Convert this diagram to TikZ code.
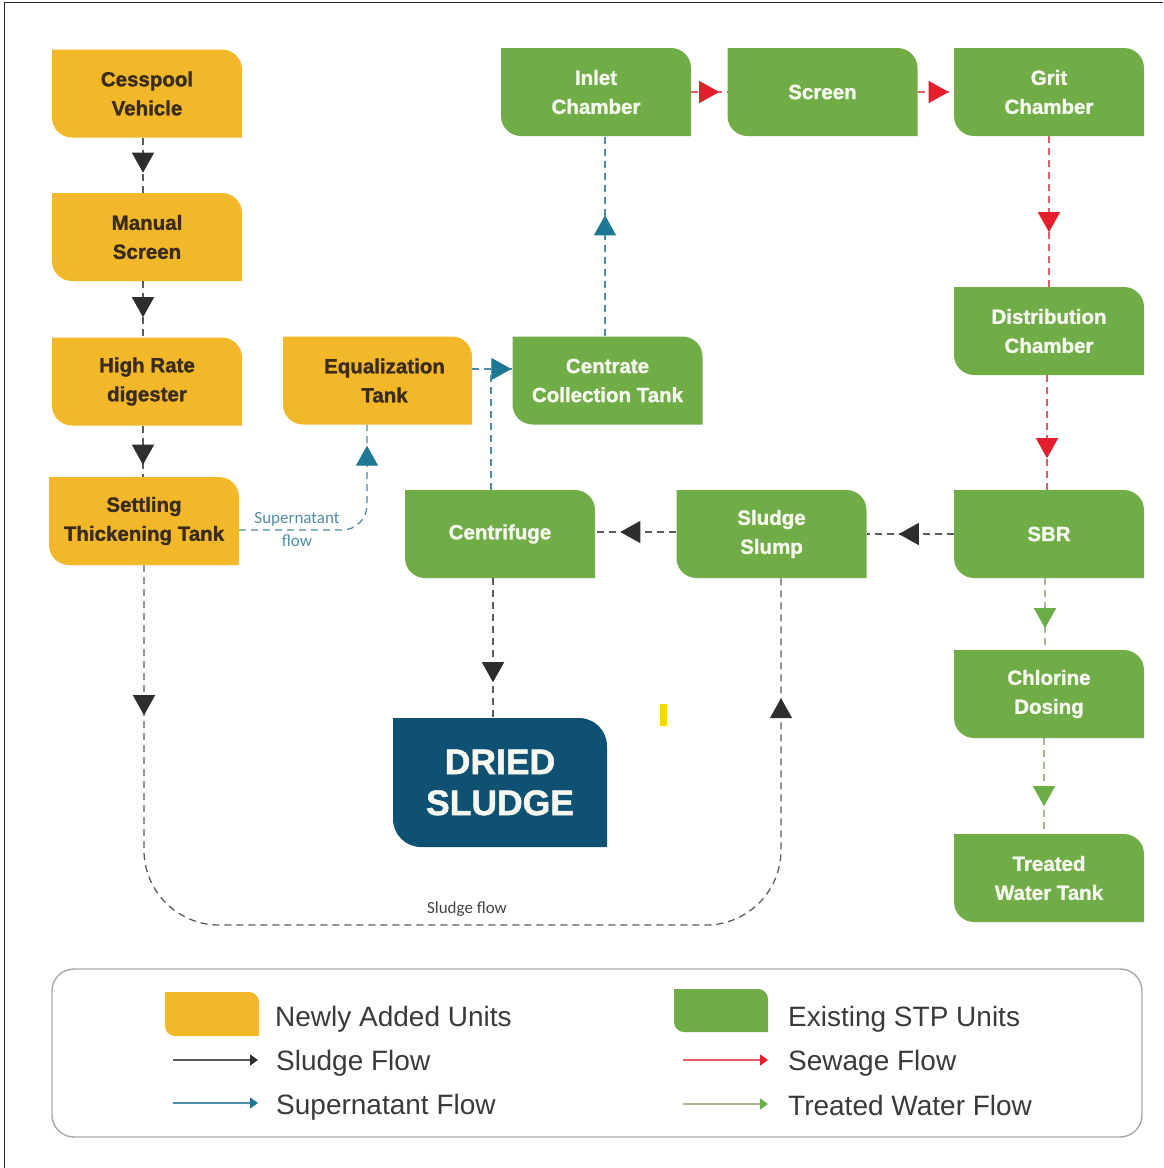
\documentclass[tikz,border=0pt]{standalone}
\usepackage{fontspec}
\setmainfont{Liberation Sans}
\newfontfamily\heavyfont[BoldFeatures={FakeBold=1.4}]{Liberation Sans}
\newfontfamily\calfont{Carlito}
\usetikzlibrary{arrows.meta,decorations.markings,calc}
\definecolor{unitY}{HTML}{F2B82A}
\definecolor{unitG}{HTML}{71AD47}
\definecolor{unitB}{HTML}{0E5173}
\definecolor{textY}{HTML}{3A2C1C}
\definecolor{textG}{HTML}{F6F8F0}
\definecolor{lnBlack}{HTML}{5C5C5C}
\definecolor{tipBlack}{HTML}{2E2E2E}
\definecolor{lnBlue}{HTML}{4A8DA8}
\definecolor{tipBlue}{HTML}{1E7893}
\definecolor{lnRed}{HTML}{E65A66}
\definecolor{tipRed}{HTML}{E31F2D}
\definecolor{lnGreen}{HTML}{A3B893}
\definecolor{tipGreen}{HTML}{6AAE45}
\definecolor{labBlue}{HTML}{4F8CA5}
\definecolor{labGray}{HTML}{444444}
\definecolor{legGray}{HTML}{A8A8A8}
\definecolor{legText}{HTML}{3A3A3A}
\definecolor{markY}{HTML}{F5D800}
\tikzset{
  corner r/.store in=\cornerr, corner r=20pt,
  unitbox/.style={minimum width=190pt, minimum height=88pt, inner sep=0pt, align=center,
    font=\heavyfont\bfseries\fontsize{20.5}{29}\selectfont,
    path picture={\fill[#1] (path picture bounding box.north west)
      -- ([xshift=-\cornerr]path picture bounding box.north east)
      arc[start angle=90,end angle=0,radius=\cornerr]
      -- (path picture bounding box.south east)
      -- ([xshift=\cornerr]path picture bounding box.south west)
      arc[start angle=270,end angle=180,radius=\cornerr] -- cycle;}},
  newunit/.style={unitbox=unitY, text=textY},
  oldunit/.style={unitbox=unitG, text=textG},
  conn/.style={dash pattern=on 7pt off 5pt, line width=1.3pt},
  sludgeln/.style={conn, draw=lnBlack},
  supln/.style={conn, draw=lnBlue},
  sewln/.style={conn, draw=lnRed},
  treatln/.style={conn, draw=lnGreen},
  tipat/.style 2 args={postaction={decorate, decoration={markings,
      mark=at position #1 with {\arrow{Triangle[length=20pt,width=22pt,color=#2]}}}}},
  legtext/.style={anchor=base west, inner sep=0pt, text=legText, font=\fontsize{28}{32}\selectfont},
  legarrow/.style 2 args={draw=#1, line width=1.3pt, -{Triangle[length=8pt,width=11pt,color=#2]}},
}
\begin{document}
\begin{tikzpicture}[x=1pt,y=-1pt]
\useasboundingbox (0,0) rectangle (1163,1168);
\fill[white] (0,0) rectangle (1163,1168);
\draw[black!85, line width=1.6pt] (1163,2.5) -- (4.5,2.5) -- (4.5,1168);

% units
\node[newunit] (cv) at (147,93.5) {Cesspool\\Vehicle};
\node[newunit] (ms) at (147,237) {Manual\\Screen};
\node[newunit] (hr) at (147,381.5) {High Rate\\digester};
\node[newunit] (st) at (144,521) {Settling\\Thickening Tank};
\node[newunit, minimum width=189pt] (eq) at (377.5,380.5) {\hspace*{14pt}Equalization\\\hspace*{14pt}Tank};
\node[oldunit] (cc) at (607.5,380.5) {Centrate\\Collection Tank};
\node[oldunit] (ic) at (596,92) {Inlet\\Chamber};
\node[oldunit] (sc) at (822.5,92) {Screen};
\node[oldunit] (gc) at (1049,92) {Grit\\Chamber};
\node[oldunit] (dc) at (1049,331) {Distribution\\Chamber};
\node[oldunit] (sbr) at (1049,534) {SBR};
\node[oldunit] (cd) at (1049,694) {Chlorine\\Dosing};
\node[oldunit] (tw) at (1049,878) {Treated\\Water Tank};
\node[oldunit] (ss) at (771.5,534) {Sludge\\Slump};
\node[oldunit] (cf) at (500,534) {Centrifuge};
\node[unitbox=unitB, text=textG, minimum width=214pt, minimum height=129pt, corner r=28pt,
      font=\heavyfont\bfseries\fontsize{35.5}{41}\selectfont] (ds) at (500,782.5) {DRIED\\SLUDGE};
\fill[markY] (660,704) rectangle (667,726);

% helper coordinates
\coordinate (j) at ([yshift=11.5pt]eq.east);
\coordinate (lb) at (0,925);

% sludge chain (new units)
\draw[sludgeln, tipat={35pt}{tipBlack}] ([xshift=-4pt]cv.south) -- ([xshift=-4pt]ms.north);
\draw[sludgeln, tipat={36pt}{tipBlack}] ([xshift=-4pt]ms.south) -- ([xshift=-4pt]hr.north);
\draw[sludgeln, tipat={39pt}{tipBlack}] ([xshift=-4pt]hr.south) -- ([xshift=-1pt]st.north);

% supernatant
\draw[supln, rounded corners=25pt, tipat={-21pt}{tipBlue}] ([yshift=-9pt]st.east) -| ([xshift=-10.5pt]eq.south);
\node[font=\calfont\fontsize{17}{23}\selectfont, text=labBlue, align=center, inner sep=0pt] (spl) at (297,530) {Supernatant\\flow};
\draw[supln, tipat={-1pt}{tipBlue}] (j) -- ([yshift=11.5pt]cc.west);
\draw[supln] ([xshift=-9pt]cf.north) -- ([xshift=-9pt]cf.north |- j);
\draw[supln, tipat={121pt}{tipBlue}] ([xshift=-2.5pt]cc.north) -- ([xshift=-2.5pt]cc.north |- ic.south);

% sewage
\draw[sewln, tipat={28pt}{tipRed}] (ic.east) -- (sc.west);
\draw[sewln, tipat={31pt}{tipRed}] (sc.east) -- (gc.west);
\draw[sewln, tipat={96pt}{tipRed}] (gc.south) -- (dc.north);
\draw[sewln, tipat={83pt}{tipRed}] ([xshift=-2pt]dc.south) -- ([xshift=-2pt]sbr.north);

% sludge from SBR
\draw[sludgeln, tipat={55pt}{tipBlack}] (sbr.west) -- (ss.east);
\draw[sludgeln, tipat={56pt}{tipBlack}] ([yshift=2pt]ss.west) -- ([yshift=2pt]cf.east);
\draw[sludgeln, tipat={104pt}{tipBlack}] ([xshift=-7pt]cf.south) -- ([xshift=-7pt]ds.north);

% treated water
\draw[treatln, tipat={50pt}{tipGreen}] ([xshift=-4pt]sbr.south) -- ([xshift=-4pt]cd.north);
\draw[treatln, tipat={68pt}{tipGreen}] ([xshift=-5pt]cd.south) -- ([xshift=-5pt]tw.north);

% sludge loop
\draw[sludgeln, rounded corners=75pt, tipat={150pt}{tipBlack}, tipat={-120pt}{tipBlack}]
  (st.south) -- (st.south |- lb) -- ([xshift=9.5pt]ss.south |- lb) -- ([xshift=9.5pt]ss.south);
\node[font=\calfont\fontsize{17}{20}\selectfont, text=labGray, inner sep=0pt] (sfl) at (467,909) {Sludge flow};

% legend
\node[draw=legGray, line width=1.4pt, rounded corners=22pt, minimum width=1090pt, minimum height=168pt, inner sep=0pt] (leg) at (597,1053) {};
\node[unitbox=unitY, minimum width=94pt, minimum height=44pt, corner r=10pt] (swY) at (212,1014) {};
\node[unitbox=unitG, minimum width=94pt, minimum height=43pt, corner r=10pt] (swG) at (721,1010.5) {};
\node[legtext] (tY) at (275,1026) {Newly Added Units};
\node[legtext] (tG) at (788,1026) {Existing STP Units};
\coordinate (a1s) at (173,1060); \coordinate (a1e) at (258,1060);
\coordinate (a2s) at (173,1103); \coordinate (a2e) at (258,1103);
\coordinate (a3s) at (683,1060); \coordinate (a3e) at (768,1060);
\coordinate (a4s) at (683,1104); \coordinate (a4e) at (768,1104);
\draw[legarrow={lnBlack}{tipBlack}] (a1s) -- (a1e);
\draw[legarrow={lnBlue}{tipBlue}] (a2s) -- (a2e);
\draw[legarrow={lnRed}{tipRed}] (a3s) -- (a3e);
\draw[legarrow={lnGreen}{tipGreen}] (a4s) -- (a4e);
\node[legtext] (t1) at (276,1070) {Sludge Flow};
\node[legtext] (t2) at (276,1114) {Supernatant Flow};
\node[legtext] (t3) at (788,1070) {Sewage Flow};
\node[legtext] (t4) at (788,1115) {Treated Water Flow};
\end{tikzpicture}
\end{document}
